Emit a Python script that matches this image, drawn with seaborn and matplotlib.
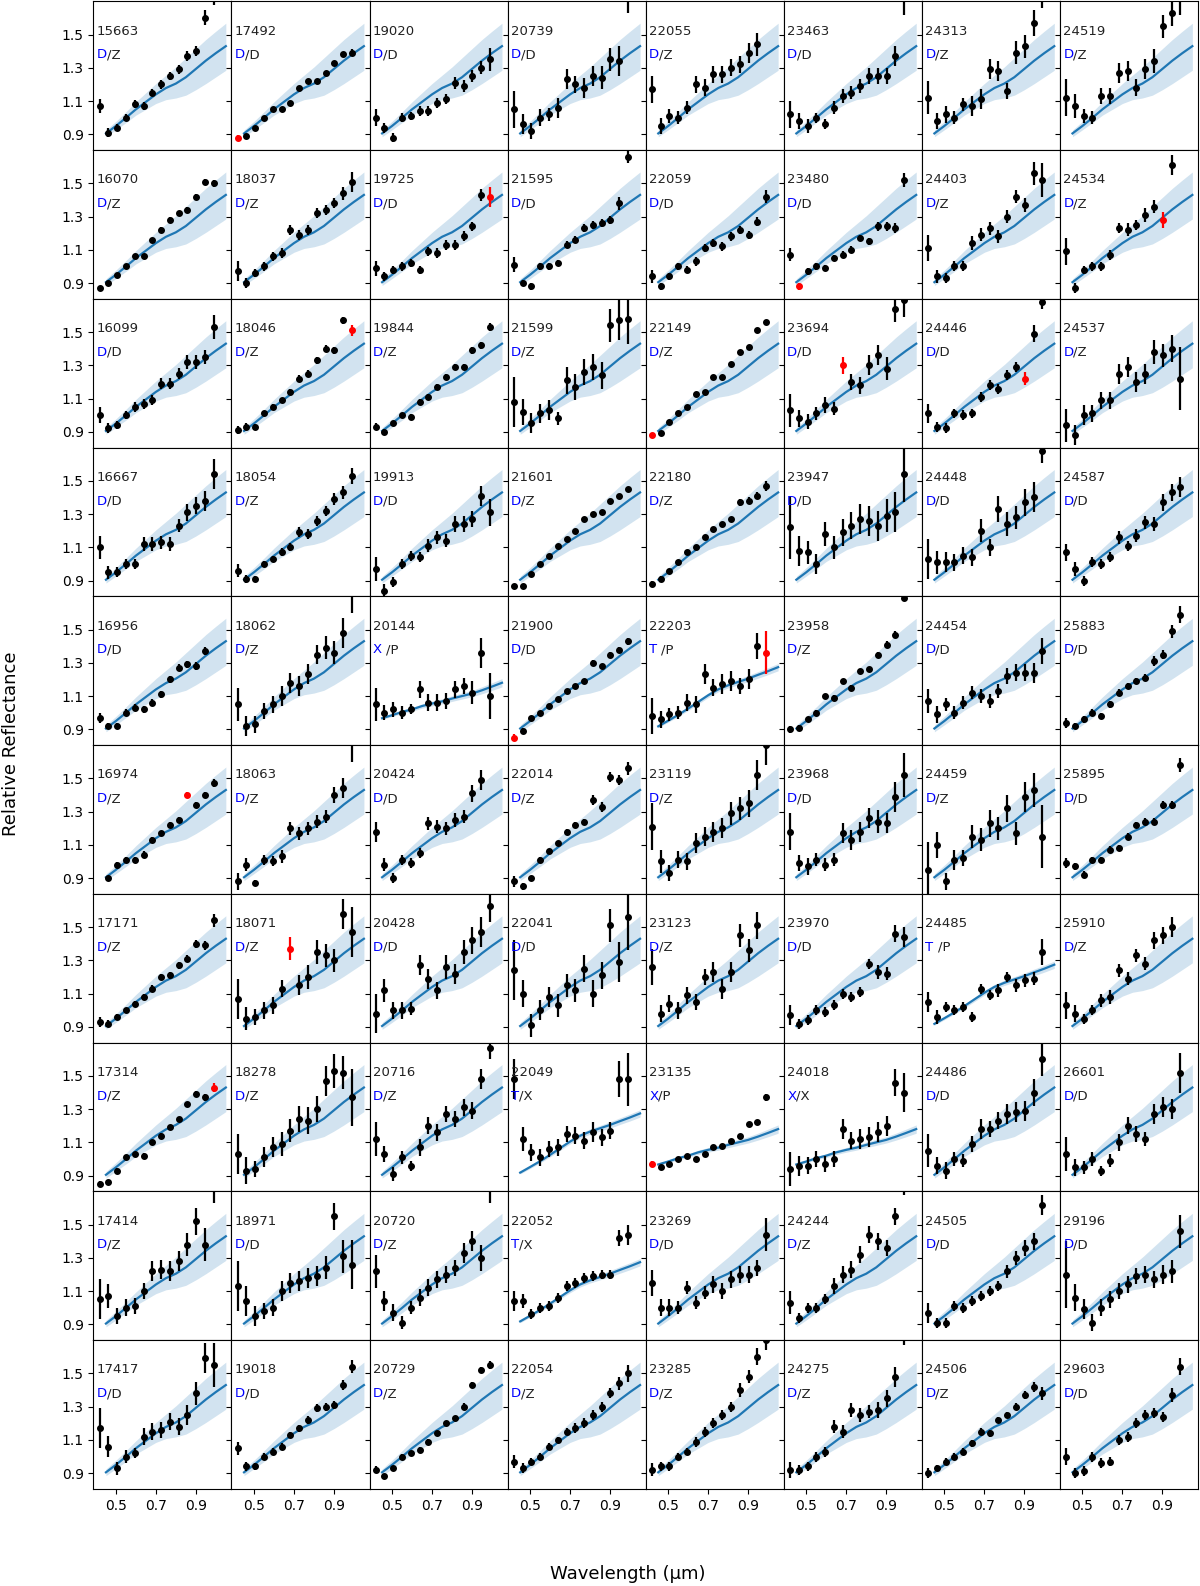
"""
Gaia reflectance spectra of D-type candidates, one panel per asteroid,
with the class template (mean and spread) drawn behind the data.
"""

import numpy as np
import matplotlib

matplotlib.use("Agg")
import matplotlib.pyplot as plt
import seaborn as sns

nan = np.nan

# Gaia DR3 band centres (micron)
wavelength = [0.418, 0.462, 0.506, 0.550, 0.594, 0.638, 0.682,
              0.726, 0.770, 0.814, 0.858, 0.902, 0.946, 0.990]

# class templates
tpl_wl = [0.45, 0.50, 0.55, 0.60, 0.65, 0.70, 0.75, 0.80, 0.85, 0.90, 0.95, 1.00, 1.05]
d_mean = [0.905, 0.950, 0.999, 1.050, 1.095, 1.140, 1.178, 1.205, 1.243, 1.293, 1.343, 1.388, 1.430]
d_low = [0.885, 0.927, 0.970, 1.015, 1.050, 1.085, 1.108, 1.118, 1.135, 1.168, 1.205, 1.245, 1.285]
d_high = [0.925, 0.978, 1.035, 1.095, 1.150, 1.205, 1.255, 1.305, 1.360, 1.415, 1.470, 1.520, 1.568]
x_mean = [0.967, 0.985, 1.005, 1.020, 1.040, 1.055, 1.068, 1.085, 1.100, 1.115, 1.135, 1.157, 1.180]
x_low = [0.960, 0.977, 0.995, 1.009, 1.027, 1.041, 1.053, 1.068, 1.082, 1.096, 1.114, 1.134, 1.155]
x_high = [0.974, 0.993, 1.015, 1.031, 1.053, 1.069, 1.083, 1.102, 1.118, 1.134, 1.156, 1.180, 1.205]
t_mean = [0.918, 0.952, 0.987, 1.025, 1.065, 1.105, 1.140, 1.165, 1.185, 1.205, 1.228, 1.250, 1.274]
t_low = [0.910, 0.943, 0.977, 1.013, 1.052, 1.091, 1.125, 1.149, 1.168, 1.186, 1.208, 1.229, 1.252]
t_high = [0.926, 0.961, 0.997, 1.037, 1.078, 1.119, 1.155, 1.181, 1.202, 1.224, 1.248, 1.271, 1.296]

# asteroids, column by column
names = [
    "15663", "16070", "16099", "16667", "16956", "16974", "17171", "17314", "17414", "17417",
    "17492", "18037", "18046", "18054", "18062", "18063", "18071", "18278", "18971", "19018",
    "19020", "19725", "19844", "19913", "20144", "20424", "20428", "20716", "20720", "20729",
    "20739", "21595", "21599", "21601", "21900", "22014", "22041", "22049", "22052", "22054",
    "22055", "22059", "22149", "22180", "22203", "23119", "23123", "23135", "23269", "23285",
    "23463", "23480", "23694", "23947", "23958", "23968", "23970", "24018", "24244", "24275",
    "24313", "24403", "24446", "24448", "24454", "24459", "24485", "24486", "24505", "24506",
    "24519", "24534", "24537", "24587", "25883", "25895", "25910", "26601", "29196", "29603",
]
class_gaia = [
    "D", "D", "D", "D", "D", "D", "D", "D", "D", "D",
    "D", "D", "D", "D", "D", "D", "D", "D", "D", "D",
    "D", "D", "D", "D", "X ", "D", "D", "D", "D", "D",
    "D", "D", "D", "D", "D", "D", "D", "T", "T", "D",
    "D", "D", "D", "D", "T ", "D", "D", "X", "D", "D",
    "D", "D", "D", "D", "D", "D", "D", "X", "D", "D",
    "D", "D", "D", "D", "D", "D", "T ", "D", "D", "D",
    "D", "D", "D", "D", "D", "D", "D", "D", "D", "D",
]
class_other = [
    "Z", "Z", "D", "D", "D", "Z", "Z", "Z", "Z", "D",
    "D", "Z", "Z", "Z", "Z", "Z", "Z", "Z", "D", "D",
    "D", "D", "Z", "D", "P", "D", "D", "Z", "Z", "Z",
    "D", "D", "Z", "Z", "D", "Z", "D", "X", "X", "Z",
    "Z", "D", "Z", "Z", "P", "Z", "Z", "P", "D", "Z",
    "D", "D", "D", "D", "Z", "D", "D", "X", "Z", "Z",
    "Z", "Z", "D", "D", "D", "Z", "P", "D", "D", "Z",
    "Z", "Z", "Z", "D", "D", "D", "Z", "D", "D", "D",
]

# index of the flagged (red) band in each spectrum, None when there is none
flagged = [
    None, None, None, None, None, 10, None, 13, None, None,
    0, None, 13, None, None, None, 6, None, None, None,
    None, 13, None, None, None, None, None, None, None, None,
    None, None, None, None, 0, None, None, None, None, None,
    None, None, 0, None, 13, None, None, 0, None, None,
    None, 1, 6, None, None, None, None, None, None, None,
    None, None, 11, None, None, None, None, None, None, None,
    None, 11, None, None, None, None, None, None, None, None,
]

refl = [
    # column 1
    [1.07, 0.91, 0.94, 1.00, 1.08, 1.07, 1.15, 1.20, 1.25, 1.29, 1.37, 1.40, 1.60, 1.73],
    [0.87, 0.90, 0.95, 1.00, 1.06, 1.06, 1.16, 1.22, 1.28, 1.32, 1.34, 1.42, 1.51, 1.50],
    [1.00, 0.92, 0.94, 1.00, 1.05, 1.07, 1.09, 1.19, 1.19, 1.25, 1.32, 1.32, 1.35, 1.53],
    [1.10, 0.95, 0.95, 1.00, 1.00, 1.12, 1.12, 1.13, 1.12, 1.23, 1.31, 1.35, 1.38, 1.54],
    [0.97, 0.92, 0.92, 1.00, 1.03, 1.02, 1.06, 1.11, 1.20, 1.27, 1.29, 1.28, 1.37, nan],
    [nan, 0.90, 0.98, 1.01, 1.01, 1.04, 1.13, 1.17, 1.22, 1.25, 1.40, 1.34, 1.40, 1.47],
    [0.93, 0.92, 0.96, 1.00, 1.04, 1.08, 1.13, 1.20, 1.21, 1.27, 1.31, 1.40, 1.39, 1.54],
    [0.85, 0.86, 0.93, 1.01, 1.03, 1.02, 1.10, 1.14, 1.19, 1.24, 1.33, 1.39, 1.37, 1.43],
    [1.05, 1.07, 0.95, 1.00, 1.01, 1.10, 1.22, 1.23, 1.22, 1.28, 1.38, 1.52, 1.38, 1.75],
    [1.17, 1.06, 0.93, 1.00, 1.02, 1.12, 1.15, 1.16, 1.21, 1.18, 1.25, 1.38, 1.59, 1.55],
    # column 2
    [0.88, 0.89, 0.94, 1.00, 1.05, 1.05, 1.09, 1.18, 1.22, 1.22, 1.27, 1.33, 1.38, 1.39],
    [0.97, 0.90, 0.96, 1.00, 1.06, 1.08, 1.22, 1.19, 1.22, 1.32, 1.34, 1.38, 1.44, 1.51],
    [0.91, 0.93, 0.93, 1.01, 1.05, 1.09, 1.14, 1.22, 1.25, 1.33, 1.40, 1.39, 1.57, 1.51],
    [0.96, 0.91, 0.91, 1.00, 1.03, 1.07, 1.10, 1.19, 1.18, 1.26, 1.32, 1.39, 1.43, 1.53],
    [1.05, 0.92, 0.93, 1.01, 1.05, 1.10, 1.18, 1.16, 1.23, 1.35, 1.39, 1.36, 1.48, 1.72],
    [0.88, 0.98, 0.87, 1.01, 1.00, 1.03, 1.20, 1.17, 1.20, 1.24, 1.27, 1.40, 1.44, 1.72],
    [1.07, 0.95, 0.96, 1.00, 1.03, 1.13, 1.37, 1.15, 1.20, 1.35, 1.33, 1.30, 1.58, 1.47],
    [1.03, 0.93, 0.94, 1.01, 1.07, 1.09, 1.17, 1.24, 1.23, 1.30, 1.47, 1.53, 1.52, 1.37],
    [1.13, 1.04, 0.95, 0.98, 1.00, 1.10, 1.15, 1.16, 1.18, 1.19, 1.24, 1.55, 1.31, 1.26],
    [1.05, 0.94, 0.94, 1.00, 1.03, 1.06, 1.13, 1.17, 1.22, 1.29, 1.30, 1.31, 1.43, 1.54],
    # column 3
    [1.00, 0.94, 0.88, 1.00, 1.01, 1.04, 1.04, 1.09, 1.11, 1.21, 1.19, 1.25, 1.30, 1.35],
    [0.99, 0.94, 0.98, 1.00, 1.02, 0.98, 1.09, 1.08, 1.13, 1.13, 1.18, 1.24, 1.43, 1.42],
    [0.93, 0.90, 0.95, 1.00, 0.99, 1.08, 1.11, 1.17, 1.23, 1.29, 1.29, 1.39, 1.42, 1.53],
    [0.97, 0.84, 0.89, 1.00, 1.05, 1.04, 1.11, 1.16, 1.14, 1.24, 1.24, 1.27, 1.41, 1.31],
    [1.05, 1.00, 1.02, 1.00, 1.02, 1.14, 1.06, 1.06, 1.07, 1.14, 1.16, 1.12, 1.36, 1.10],
    [1.18, 0.98, 0.90, 1.01, 0.99, 1.05, 1.23, 1.21, 1.20, 1.25, 1.27, 1.41, 1.49, nan],
    [0.98, 1.12, 1.00, 1.00, 1.01, 1.27, 1.19, 1.12, 1.26, 1.22, 1.35, 1.42, 1.47, 1.63],
    [1.12, 1.03, 0.91, 1.01, 0.96, 1.07, 1.20, 1.16, 1.27, 1.24, 1.31, 1.29, 1.48, 1.67],
    [1.22, 1.04, 0.97, 0.91, 1.00, 1.06, 1.12, 1.17, 1.20, 1.24, 1.33, 1.40, 1.30, 1.75],
    [0.92, 0.88, 0.93, 1.00, 1.02, 1.04, 1.09, 1.14, 1.20, 1.23, 1.30, 1.43, 1.52, 1.55],
    # column 4
    [1.05, 0.96, 0.92, 1.00, 1.02, 1.06, 1.23, 1.20, 1.18, 1.25, 1.24, 1.35, 1.34, 1.74],
    [1.01, 0.90, 0.88, 1.00, 1.00, 1.02, 1.13, 1.16, 1.23, 1.25, 1.26, 1.28, 1.38, 1.66],
    [1.08, 1.02, 0.95, 1.01, 1.03, 0.98, 1.21, 1.17, 1.26, 1.29, 1.24, 1.54, 1.57, 1.58],
    [0.87, 0.87, 0.94, 1.00, 1.05, 1.11, 1.15, 1.20, 1.27, 1.30, 1.31, 1.38, 1.41, 1.45],
    [0.85, 0.89, 0.97, 1.00, 1.04, 1.08, 1.13, 1.16, 1.19, 1.30, 1.28, 1.35, 1.38, 1.43],
    [0.88, 0.85, 0.90, 1.01, 1.06, 1.11, 1.18, 1.22, 1.24, 1.37, 1.33, 1.51, 1.49, 1.56],
    [1.24, 1.10, 0.91, 1.00, 1.08, 1.03, 1.15, 1.12, 1.25, 1.10, 1.21, 1.51, 1.29, 1.56],
    [1.48, 1.12, 1.04, 1.01, 1.06, 1.07, 1.15, 1.14, 1.11, 1.16, 1.13, 1.17, 1.48, 1.48],
    [1.04, 1.04, 0.96, 1.00, 1.01, 1.06, 1.13, 1.15, 1.18, 1.19, 1.20, 1.20, 1.42, 1.44],
    [0.97, 0.93, 0.97, 1.00, 1.06, 1.10, 1.15, 1.17, 1.20, 1.25, 1.30, 1.38, 1.44, 1.50],
    # column 5
    [1.17, 0.95, 1.01, 1.00, 1.06, 1.20, 1.18, 1.26, 1.26, 1.30, 1.32, 1.39, 1.44, nan],
    [0.94, 0.88, 0.94, 1.00, 0.98, 1.03, 1.11, 1.14, 1.12, 1.18, 1.22, 1.19, 1.27, 1.42],
    [0.88, 0.89, 0.96, 1.01, 1.05, 1.13, 1.14, 1.23, 1.23, 1.31, 1.38, 1.41, 1.51, 1.56],
    [0.88, 0.91, 0.96, 1.01, 1.07, 1.10, 1.16, 1.21, 1.24, 1.27, 1.37, 1.38, 1.41, 1.47],
    [0.98, 0.96, 0.99, 1.00, 1.06, 1.05, 1.23, 1.15, 1.17, 1.19, 1.16, 1.20, 1.40, 1.36],
    [1.21, 1.00, 0.93, 1.01, 1.00, 1.11, 1.15, 1.18, 1.20, 1.29, 1.32, 1.35, 1.52, 1.70],
    [1.26, 0.98, 1.04, 1.00, 1.09, 1.05, 1.20, 1.23, 1.13, 1.23, 1.45, 1.36, 1.51, nan],
    [0.97, 0.95, 0.97, 1.00, 1.02, 1.00, 1.03, 1.07, 1.08, 1.11, 1.14, 1.21, 1.22, 1.37],
    [1.15, 1.00, 1.00, 1.00, 1.12, 1.03, 1.09, 1.14, 1.10, 1.17, 1.20, 1.20, 1.24, 1.44],
    [0.92, 0.94, 0.94, 1.00, 1.03, 1.09, 1.15, 1.20, 1.25, 1.30, 1.40, 1.48, 1.60, 1.70],
    # column 6
    [1.02, 0.98, 0.95, 1.00, 0.96, 1.06, 1.13, 1.15, 1.19, 1.25, 1.25, 1.25, 1.37, 1.72],
    [1.07, 0.88, 0.97, 1.00, 0.99, 1.05, 1.07, 1.10, 1.17, 1.15, 1.24, 1.24, 1.23, 1.52],
    [1.03, 0.98, 0.96, 1.01, 1.06, 1.04, 1.30, 1.20, 1.18, 1.30, 1.36, 1.28, 1.64, 1.69],
    [1.22, 1.08, 1.07, 1.00, 1.18, 1.10, 1.19, 1.23, 1.27, 1.26, 1.23, 1.29, 1.31, 1.54],
    [0.90, 0.91, 0.96, 1.00, 1.10, 1.09, 1.19, 1.15, 1.25, 1.26, 1.35, 1.41, 1.47, 1.69],
    [1.18, 0.99, 0.97, 1.01, 0.98, 1.01, 1.17, 1.13, 1.18, 1.26, 1.24, 1.23, 1.39, 1.52],
    [0.97, 0.92, 0.94, 1.00, 0.99, 1.03, 1.10, 1.08, 1.11, 1.28, 1.23, 1.22, 1.46, 1.44],
    [0.94, 0.96, 0.96, 1.00, 0.97, 1.00, 1.18, 1.11, 1.12, 1.13, 1.16, 1.20, 1.46, 1.40],
    [1.03, 0.94, 1.00, 1.00, 1.05, 1.13, 1.20, 1.23, 1.32, 1.44, 1.40, 1.36, 1.55, 1.78],
    [0.92, 0.92, 0.94, 1.00, 1.03, 1.18, 1.15, 1.28, 1.25, 1.27, 1.28, 1.35, 1.48, 1.75],
    # column 7
    [1.12, 0.98, 1.02, 1.00, 1.08, 1.07, 1.11, 1.29, 1.28, 1.16, 1.39, 1.43, 1.57, 1.76],
    [1.11, 0.94, 0.93, 1.00, 1.00, 1.14, 1.19, 1.23, 1.18, 1.30, 1.42, 1.37, 1.56, 1.52],
    [1.01, 0.93, 0.92, 1.01, 1.00, 1.01, 1.11, 1.18, 1.16, 1.24, 1.29, 1.22, 1.49, 1.68],
    [1.03, 1.01, 1.01, 1.01, 1.05, 1.04, 1.20, 1.10, 1.33, 1.24, 1.28, 1.37, 1.40, 1.68],
    [1.07, 0.99, 1.05, 1.00, 1.06, 1.12, 1.10, 1.07, 1.13, 1.22, 1.24, 1.24, 1.24, 1.37],
    [0.95, 1.10, 0.88, 1.01, 1.02, 1.15, 1.13, 1.23, 1.20, 1.32, 1.17, 1.39, 1.43, 1.15],
    [1.05, 0.96, 1.02, 1.00, 1.02, 0.96, 1.13, 1.09, 1.12, 1.20, 1.15, 1.18, 1.19, 1.35],
    [1.05, 0.96, 0.93, 1.00, 0.99, 1.09, 1.18, 1.18, 1.23, 1.27, 1.28, 1.29, 1.40, 1.60],
    [0.97, 0.91, 0.91, 1.01, 1.00, 1.04, 1.07, 1.10, 1.13, 1.22, 1.30, 1.36, 1.40, 1.62],
    [0.90, 0.93, 0.97, 1.00, 1.03, 1.08, 1.15, 1.14, 1.22, 1.25, 1.30, 1.37, 1.42, 1.38],
    # column 8
    [1.12, 1.07, 1.01, 1.00, 1.13, 1.13, 1.27, 1.28, 1.18, 1.29, 1.34, 1.55, 1.63, 1.72],
    [1.09, 0.87, 0.98, 1.00, 1.00, 1.07, 1.23, 1.22, 1.25, 1.31, 1.36, 1.28, 1.61, nan],
    [0.94, 0.88, 1.00, 1.01, 1.09, 1.09, 1.25, 1.29, 1.20, 1.25, 1.38, 1.36, 1.40, 1.22],
    [1.07, 0.97, 0.90, 1.01, 1.00, 1.04, 1.16, 1.11, 1.17, 1.25, 1.24, 1.37, 1.43, 1.46],
    [0.94, 0.92, 0.96, 1.00, 0.98, 1.05, 1.12, 1.16, 1.19, 1.21, 1.31, 1.35, 1.49, 1.59],
    [0.99, 0.97, 0.92, 1.01, 1.01, 1.07, 1.08, 1.15, 1.22, 1.24, 1.24, 1.34, 1.34, 1.58],
    [1.03, 0.98, 0.95, 1.00, 1.06, 1.08, 1.24, 1.19, 1.33, 1.28, 1.42, 1.45, 1.50, nan],
    [1.03, 0.95, 0.95, 1.00, 0.93, 0.99, 1.10, 1.20, 1.15, 1.12, 1.27, 1.31, 1.30, 1.52],
    [1.20, 1.06, 0.99, 0.91, 1.00, 1.05, 1.10, 1.14, 1.19, 1.20, 1.17, 1.20, 1.22, 1.46],
    [1.00, 0.90, 0.91, 1.00, 0.96, 0.97, 1.10, 1.12, 1.20, 1.25, 1.26, 1.24, 1.37, 1.54],
]

refl_err = [
    # column 1
    [.045, .025, .02, .02, .025, .025, .02, .025, .025, .025, .03, .03, .045, .05],
    [.015, .01, .01, .01, .01, .01, .01, .015, .015, .015, .015, .015, .015, .02],
    [.05, .03, .025, .025, .03, .03, .03, .035, .035, .035, .04, .04, .04, .07],
    [.07, .04, .03, .03, .03, .04, .04, .04, .04, .04, .05, .05, .06, .09],
    [.03, .02, .02, .02, .02, .02, .02, .02, .02, .02, .02, .025, .025, 0],
    [0, .015, .015, .015, .015, .02, .015, .015, .015, .015, .02, .02, .02, .025],
    [.03, .02, .015, .015, .015, .02, .02, .02, .02, .02, .02, .025, .025, .04],
    [.02, .015, .015, .015, .015, .015, .015, .015, .015, .015, .015, .02, .02, .025],
    [.12, .07, .05, .05, .05, .05, .06, .06, .06, .06, .07, .08, .10, .12],
    [.12, .065, .04, .04, .03, .05, .05, .05, .05, .05, .06, .07, .09, .13],
    # column 2
    [.015, .01, .01, .01, .01, .01, .01, .01, .01, .01, .01, .01, .015, .02],
    [.06, .03, .025, .025, .025, .03, .03, .03, .03, .03, .03, .03, .04, .06],
    [.025, .02, .015, .015, .015, .015, .015, .02, .02, .02, .02, .02, .02, .035],
    [.04, .025, .02, .02, .02, .025, .025, .03, .03, .03, .03, .035, .04, .05],
    [.10, .06, .05, .05, .05, .06, .06, .06, .06, .06, .07, .07, .09, .12],
    [.05, .04, .02, .03, .03, .04, .04, .04, .04, .04, .04, .05, .06, .12],
    [.12, .07, .05, .05, .05, .05, .07, .06, .07, .07, .07, .07, .09, .15],
    [.12, .08, .05, .06, .06, .07, .07, .08, .08, .08, .09, .10, .10, .17],
    [.15, .09, .06, .05, .05, .06, .06, .06, .06, .06, .07, .08, .10, .15],
    [.04, .025, .02, .02, .02, .02, .02, .02, .025, .025, .025, .025, .03, .04],
    # column 3
    [.05, .03, .025, .025, .025, .03, .03, .03, .03, .035, .035, .035, .04, .07],
    [.045, .025, .025, .025, .025, .025, .025, .03, .03, .03, .03, .03, .035, .06],
    [.02, .015, .015, .015, .015, .015, .015, .015, .015, .015, .02, .02, .02, .025],
    [.07, .04, .03, .03, .03, .03, .04, .04, .04, .05, .05, .05, .06, .08],
    [.10, .045, .045, .04, .03, .05, .05, .05, .05, .05, .05, .07, .09, .14],
    [.06, .04, .03, .03, .03, .03, .04, .04, .04, .04, .04, .05, .06, 0],
    [.12, .07, .05, .05, .04, .06, .06, .05, .07, .06, .07, .08, .09, .10],
    [.10, .05, .04, .04, .03, .05, .05, .05, .05, .05, .05, .05, .06, .07],
    [.10, .06, .05, .04, .04, .05, .05, .05, .05, .05, .06, .06, .08, .12],
    [.02, .015, .015, .015, .015, .015, .015, .015, .015, .015, .02, .02, .02, .025],
    # column 4
    [.11, .06, .05, .05, .04, .06, .06, .05, .06, .06, .07, .07, .09, .11],
    [.045, .02, .02, .02, .02, .02, .02, .02, .025, .025, .025, .025, .04, .04],
    [.15, .08, .06, .06, .06, .04, .08, .08, .08, .08, .08, .10, .12, .15],
    [.01, .01, .01, .01, .01, .01, .01, .01, .01, .01, .01, .01, .01, .015],
    [.02, .015, .01, .01, .01, .01, .01, .01, .01, .015, .015, .015, .015, .02],
    [.035, .02, .015, .015, .015, .015, .015, .015, .015, .03, .03, .03, .03, .04],
    [.18, .08, .07, .06, .06, .07, .07, .07, .08, .08, .08, .10, .12, .20],
    [.12, .07, .05, .05, .05, .05, .05, .05, .05, .06, .05, .05, .11, .16],
    [.06, .04, .03, .03, .03, .03, .03, .03, .03, .03, .03, .03, .05, .06],
    [.04, .03, .02, .02, .02, .02, .02, .03, .03, .03, .03, .03, .04, .05],
    # column 5
    [.08, .05, .04, .04, .04, .05, .05, .05, .05, .05, .05, .06, .07, 0],
    [.04, .02, .02, .02, .02, .025, .025, .025, .025, .025, .025, .025, .03, .04],
    [.01, .01, .01, .01, .01, .01, .01, .01, .01, .01, .01, .01, .01, .015],
    [.02, .015, .01, .01, .015, .015, .015, .015, .015, .015, .02, .02, .02, .03],
    [.11, .05, .04, .04, .05, .05, .06, .05, .06, .06, .05, .06, .08, .13],
    [.14, .07, .05, .05, .05, .06, .06, .06, .06, .07, .07, .08, .09, .12],
    [.11, .05, .05, .05, .05, .05, .05, .06, .06, .06, .07, .07, .08, 0],
    [.015, .01, .01, .01, .01, .01, .01, .01, .01, .01, .01, .01, .01, .02],
    [.08, .05, .05, .04, .04, .04, .04, .05, .05, .05, .05, .05, .05, .10],
    [.04, .03, .03, .02, .02, .03, .03, .03, .03, .03, .04, .04, .05, .06],
    # column 6
    [.08, .05, .04, .03, .03, .04, .04, .04, .04, .05, .05, .05, .06, .10],
    [.04, .02, .02, .02, .02, .02, .02, .02, .02, .02, .025, .03, .03, .04],
    [.10, .05, .045, .04, .05, .04, .05, .05, .05, .06, .06, .07, .08, .10],
    [.19, .09, .07, .06, .07, .07, .08, .08, .09, .09, .09, .10, .12, .17],
    [.02, .015, .015, .015, .015, .015, .015, .015, .015, .015, .015, .02, .02, .02],
    [.11, .05, .05, .04, .04, .04, .06, .06, .06, .06, .07, .06, .09, .13],
    [.06, .03, .03, .03, .03, .03, .03, .03, .03, .03, .04, .04, .05, .06],
    [.10, .06, .05, .05, .05, .05, .06, .05, .06, .06, .06, .06, .08, .12],
    [.07, .03, .03, .03, .03, .05, .05, .05, .05, .05, .05, .05, .05, .10],
    [.05, .03, .03, .03, .03, .04, .04, .04, .04, .04, .05, .05, .06, .08],
    # column 7
    [.10, .05, .05, .04, .04, .06, .06, .06, .06, .05, .07, .07, .08, .10],
    [.08, .04, .03, .03, .03, .04, .04, .04, .04, .04, .04, .04, .07, .10],
    [.06, .03, .03, .03, .03, .03, .03, .03, .03, .03, .03, .04, .05, .04],
    [.12, .07, .06, .05, .05, .05, .07, .05, .08, .07, .07, .08, .09, .07],
    [.07, .05, .04, .04, .04, .04, .04, .04, .04, .05, .05, .05, .06, .08],
    [.17, .08, .05, .06, .05, .07, .07, .08, .07, .08, .07, .09, .10, .19],
    [.06, .04, .03, .03, .03, .03, .03, .03, .04, .03, .04, .04, .04, .08],
    [.10, .05, .05, .04, .04, .05, .06, .05, .05, .06, .06, .06, .08, .10],
    [.06, .03, .03, .03, .03, .03, .03, .03, .03, .04, .04, .05, .05, .06],
    [.03, .02, .02, .02, .02, .02, .02, .02, .02, .02, .02, .025, .03, .04],
    # column 8
    [.11, .07, .04, .04, .05, .05, .06, .06, .05, .06, .07, .07, .08, .10],
    [.08, .03, .025, .025, .025, .03, .03, .04, .03, .04, .04, .05, .06, 0],
    [.10, .06, .06, .05, .05, .05, .06, .06, .06, .06, .07, .07, .08, .19],
    [.05, .04, .03, .03, .03, .03, .04, .03, .04, .04, .04, .05, .05, .06],
    [.03, .02, .02, .02, .02, .02, .02, .02, .02, .02, .03, .03, .04, .05],
    [.03, .02, .02, .015, .015, .02, .02, .02, .02, .02, .02, .025, .025, .04],
    [.08, .05, .03, .03, .04, .04, .04, .04, .04, .04, .05, .05, .06, 0],
    [.10, .05, .04, .04, .03, .04, .05, .05, .05, .04, .06, .06, .06, .12],
    [.20, .08, .06, .05, .05, .05, .05, .05, .05, .05, .05, .06, .07, .10],
    [.05, .03, .03, .03, .03, .03, .03, .03, .03, .03, .03, .03, .04, .05],
]

templates = {
    "D": (d_mean, d_low, d_high),
    "X": (x_mean, x_low, x_high),
    "T": (t_mean, t_low, t_high),
}

NROWS, NCOLS = 10, 8
TPL_COLOR = "#1f77b4"

fig, axes = plt.subplots(NROWS, NCOLS, figsize=(12, 15.86), dpi=100,
                         sharex=True, sharey=True)
fig.subplots_adjust(left=0.0778, right=0.9983, top=0.9992, bottom=0.0612,
                    wspace=0, hspace=0)

wl = np.array(wavelength)

for k, name in enumerate(names):
    ax = axes[k % NROWS, k // NROWS]
    mean, low, high = templates[class_gaia[k].strip()]

    ax.fill_between(tpl_wl, low, high, color=TPL_COLOR, alpha=0.2, lw=0)
    sns.lineplot(x=tpl_wl, y=mean, ax=ax, color=TPL_COLOR, lw=1.6)

    r = np.array(refl[k], dtype=float)
    e = np.array(refl_err[k], dtype=float)
    bad = np.zeros(len(r), dtype=bool)
    if flagged[k] is not None:
        bad[flagged[k]] = True
    good = ~np.isnan(r) & ~bad

    ax.errorbar(wl[good], r[good], yerr=e[good], fmt="o", color="black",
                ms=4, elinewidth=1.6, capsize=0)
    if bad.any():
        ax.errorbar(wl[bad], r[bad], yerr=e[bad], fmt="o", color="red",
                    ms=4, elinewidth=1.6, capsize=0)

    ax.text(0.025, 0.80, name, transform=ax.transAxes, fontsize=9.5,
            va="center", ha="left", color="#222222")
    first = ax.text(0.025, 0.64, class_gaia[k], transform=ax.transAxes,
                    fontsize=9.5, va="center", ha="left", color="blue")
    ax.annotate("/" + class_other[k], xy=(1, 0), xycoords=first,
                va="bottom", ha="left", fontsize=9.5, color="#222222")

    ax.set_xlim(0.387, 1.078)
    ax.set_ylim(0.805, 1.70)
    ax.set_xticks([0.5, 0.7, 0.9])
    ax.set_yticks([0.9, 1.1, 1.3, 1.5])
    ax.tick_params(labelsize=10)
    ax.set_xlabel("")
    ax.set_ylabel("")

fig.text(0.009, 0.531, "Relative Reflectance", rotation=90,
         va="center", ha="center", fontsize=13)
fig.text(0.523, 0.0076, "Wavelength (µm)", va="center", ha="center",
         fontsize=13)

fig.savefig("out.png", dpi=100)
